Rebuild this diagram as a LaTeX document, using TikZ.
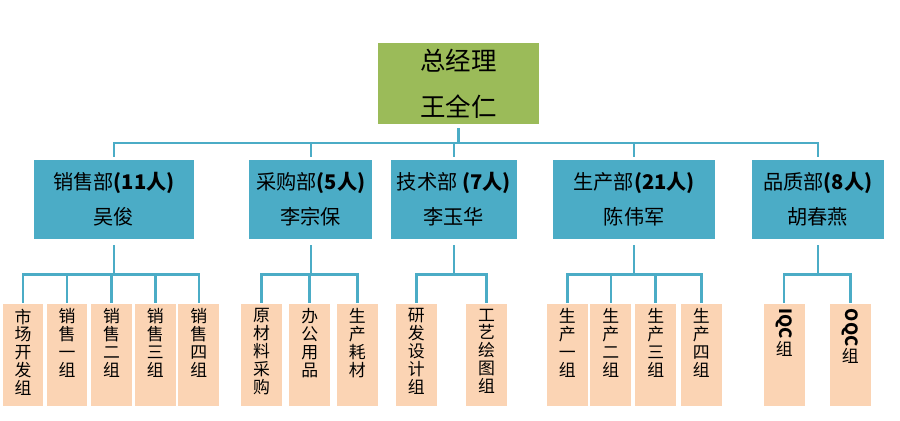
\documentclass[tikz,border=0pt]{standalone}
\usepackage{fontspec}
\usepackage{graphicx}
\setmainfont{Noto Sans CJK SC}
\definecolor{bossgreen}{HTML}{9BBB59}
\definecolor{deptblue}{HTML}{4BACC6}
\definecolor{grouppeach}{HTML}{FBD4B4}
\newcommand{\coltext}[1]{\parbox[c][1.85cm][t]{0.7cm}{\centering #1}}

\begin{document}
\begin{tikzpicture}[x=0.02cm, y=-0.02cm,
    boss/.style={
        fill=bossgreen,
        minimum width=3.22cm,
        minimum height=1.58cm,
        align=center,
        font=\fontsize{14.5pt}{26pt}\selectfont
    },
    dept/.style={
        fill=deptblue,
        minimum height=1.58cm,
        align=center,
        font=\fontsize{11.5pt}{20pt}\selectfont
    },
    group/.style={
        fill=grouppeach,
        minimum width=0.82cm,
        minimum height=2.06cm,
        inner sep=0pt,
        font=\fontsize{9.6pt}{10.2pt}\selectfont
    },
    link/.style={
        draw=deptblue,
        line width=1.4pt
    }
]
\useasboundingbox (0,0) rectangle (900,421);

%------------------------------------------------
% Parameters
%------------------------------------------------
\def\depty{199.5}
\def\groupy{355}

%------------------------------------------------
% General manager
%------------------------------------------------
\node[boss] (ceo) at (458.5,83.5) {总经理\\王全仁};

%------------------------------------------------
% Departments
%------------------------------------------------
\foreach \n/\x/\w/\t in {
    sales/114/3.22cm/{销售部{\bfseries(11人)}\\吴俊},
    purch/310.8/2.46cm/{采购部{\bfseries(5人)}\\李宗保},
    tech/453.8/2.52cm/{技术部 {\bfseries(7人)}\\李玉华},
    prod/634.2/3.24cm/{生产部{\bfseries(21人)}\\陈伟军},
    qual/817.8/2.64cm/{品质部{\bfseries(8人)}\\胡春燕}} {
    \node[dept, minimum width=\w] (\n) at (\x,\depty) {\t};
}

%------------------------------------------------
% Groups
%------------------------------------------------
\foreach \n/\x/\t in {
    g11/23/{市\\场\\开\\发\\组},
    g12/67/{销\\售\\一\\组},
    g13/111.5/{销\\售\\二\\组},
    g14/155.3/{销\\售\\三\\组},
    g15/198.8/{销\\售\\四\\组},
    g21/261.5/{原\\材\\料\\采\\购},
    g22/309.7/{办\\公\\用\\品},
    g23/357.3/{生\\产\\耗\\材},
    g31/416.3/{研\\发\\设\\计\\组},
    g32/486.5/{工\\艺\\绘\\图\\组},
    g41/567.3/{生\\产\\一\\组},
    g42/610.8/{生\\产\\二\\组},
    g43/655.7/{生\\产\\三\\组},
    g44/701.3/{生\\产\\四\\组},
    g51/784.2/{\rotatebox{-90}{\bfseries IQC}\\组},
    g52/850.3/{\rotatebox{-90}{\bfseries OQC}\\组}} {
    \node[group] (\n) at (\x,\groupy) {\coltext{\t}};
}

%------------------------------------------------
% Connectors
%------------------------------------------------
\foreach \d in {sales,purch,tech,prod,qual} {
    \draw[link, shorten <=0.08cm, shorten >=0.06cm]
        (ceo.south) -- ++(0,18.7) -| (\d.north);
}

\foreach \d/\g in {sales/g11,sales/g12,sales/g13,sales/g14,sales/g15,
    purch/g21,purch/g22,purch/g23,
    tech/g31,tech/g32,
    prod/g41,prod/g42,prod/g43,prod/g44,
    qual/g51,qual/g52} {
    \draw[link, shorten <=0.12cm]
        (\d.south) -- ++(0,35) -| (\g.north);
}

\end{tikzpicture}
\end{document}
